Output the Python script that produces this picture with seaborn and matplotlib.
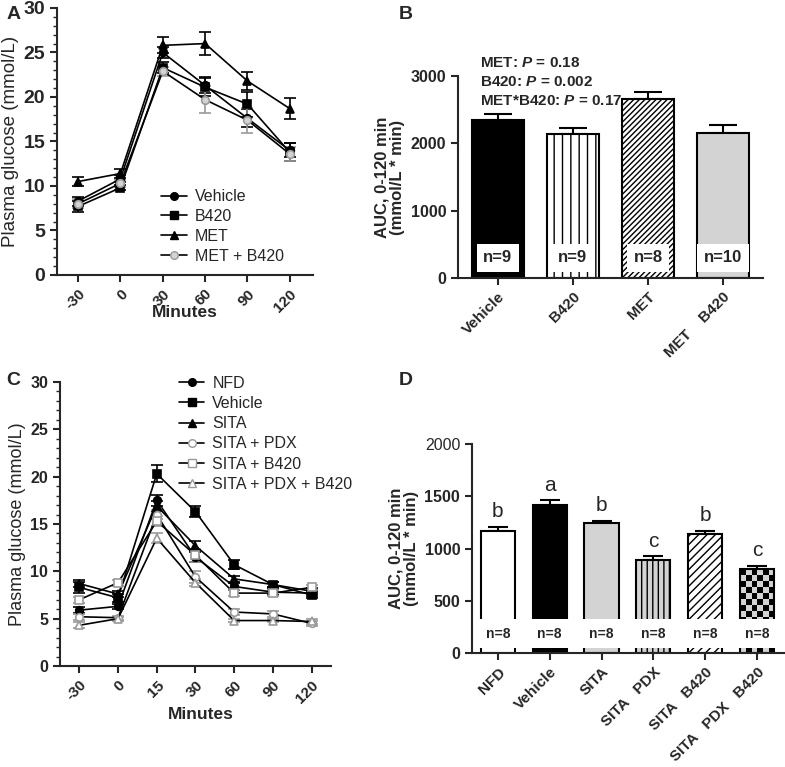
import numpy as np
import matplotlib
matplotlib.use("Agg")
import matplotlib.pyplot as plt
from matplotlib.ticker import MultipleLocator
from matplotlib.colors import ListedColormap
from matplotlib.lines import Line2D
import seaborn as sns

# ---- data ----
minutes_a = ["-30", "0", "30", "60", "90", "120"]
vehicle_a = [8.3, 10.8, 25.0, 21.3, 17.6, 14.0]
vehicle_a_sem = [0.5, 0.4, 0.6, 0.9, 1.0, 0.8]
b420_a = [7.7, 9.8, 23.3, 21.1, 19.2, 13.8]
b420_a_sem = [0.6, 0.3, 0.6, 1.0, 1.4, 1.0]
met_a = [10.5, 11.4, 25.8, 26.0, 21.8, 18.7]
met_a_sem = [0.5, 0.5, 0.9, 1.3, 1.0, 1.2]
metb420_a = [8.0, 10.3, 22.9, 19.7, 17.4, 13.6]
metb420_a_sem = [0.5, 0.4, 0.5, 1.5, 1.4, 0.8]

groups_b = ["Vehicle", "B420", "MET", "MET    B420"]
auc_b = [2340, 2135, 2665, 2160]
auc_b_sem = [100, 92, 92, 108]
n_b = ["n=9", "n=9", "n=8", "n=10"]
pvals_b = ["MET: $P$ = 0.18", "B420: $P$ = 0.002", "MET*B420: $P$ = 0.17"]

minutes_c = ["-30", "0", "15", "30", "60", "90", "120"]
nfd_c = [5.9, 6.3, 17.5, 11.5, 8.4, 7.8, 7.7]
nfd_c_sem = [0.3, 0.3, 0.6, 0.5, 0.4, 0.3, 0.3]
vehicle_c = [8.3, 7.2, 20.3, 16.3, 10.7, 8.6, 7.5]
vehicle_c_sem = [0.6, 0.4, 0.9, 0.6, 0.5, 0.3, 0.3]
sita_c = [8.7, 7.6, 16.9, 12.7, 9.2, 8.6, 7.9]
sita_c_sem = [0.4, 0.3, 0.5, 0.5, 0.3, 0.3, 0.3]
sita_pdx_c = [5.2, 5.1, 16.0, 9.4, 5.7, 5.5, 4.5]
sita_pdx_c_sem = [0.3, 0.2, 0.5, 0.6, 0.3, 0.3, 0.3]
sita_b420_c = [7.0, 8.8, 15.3, 11.7, 7.7, 7.7, 8.3]
sita_b420_c_sem = [0.3, 0.3, 0.5, 0.7, 0.3, 0.3, 0.3]
sita_pdx_b420_c = [4.3, 5.0, 13.5, 8.8, 4.8, 4.8, 4.7]
sita_pdx_b420_c_sem = [0.3, 0.2, 0.5, 0.4, 0.2, 0.2, 0.3]

groups_d = ["NFD", "Vehicle", "SITA", "SITA   PDX", "SITA   B420", "SITA   PDX   B420"]
auc_d = [1165, 1415, 1245, 890, 1140, 800]
auc_d_sem = [40, 45, 18, 35, 30, 32]
letters_d = ["b", "a", "b", "c", "b", "c"]
n_d = ["n=8"] * 6

# ---- style ----
sns.set_style("ticks")
plt.rcParams["font.family"] = ["Liberation Sans", "DejaVu Sans"]
plt.rcParams["mathtext.fontset"] = "custom"
plt.rcParams["mathtext.it"] = "Liberation Sans:italic:bold"
plt.rcParams["mathtext.rm"] = "Liberation Sans:bold"
plt.rcParams["hatch.linewidth"] = 1.0
plt.rcParams["axes.linewidth"] = 1.5

GREY = "#9a9a9a"
LIGHT = "#d3d3d3"

fig = plt.figure(figsize=(7.85, 7.67), dpi=100)
ax_a = fig.add_axes([0.0726, 0.6415, 0.3261, 0.3481])
ax_b = fig.add_axes([0.5834, 0.6375, 0.3885, 0.2634])
ax_c = fig.add_axes([0.0764, 0.1317, 0.3452, 0.3703])
ax_d = fig.add_axes([0.6013, 0.1486, 0.3987, 0.2725])


def style_axes(ax, ysize, xsize):
    sns.despine(ax=ax)
    ax.spines["left"].set_linewidth(1.5)
    ax.spines["bottom"].set_linewidth(1.5)
    ax.tick_params(axis="both", width=1.5, length=5)
    ax.tick_params(axis="y", labelsize=ysize)
    ax.tick_params(axis="x", labelsize=xsize)
    for lab in ax.get_yticklabels() + ax.get_xticklabels():
        lab.set_fontweight("bold")


def line_panel(ax, cats, series, ysize, lsize):
    x = np.arange(len(cats))
    for vals, sem, mk, fc, ec, lab in series:
        ax.errorbar(x, vals, yerr=sem, fmt="none", ecolor=ec, elinewidth=1.2,
                    capsize=4.5, capthick=1.2, zorder=2)
        sns.lineplot(x=x, y=vals, ax=ax, color="black", linewidth=1.2,
                     marker=mk, markersize=5.5, markerfacecolor=fc,
                     markeredgecolor=ec, markeredgewidth=1.2, zorder=3)
    ax.set_ylim(0, 30)
    ax.yaxis.set_major_locator(MultipleLocator(5))
    ax.yaxis.set_minor_locator(MultipleLocator(1))
    ax.tick_params(axis="y", which="minor", length=3, width=1.0)
    ax.set_xticks(x)
    ax.set_xticklabels(cats, rotation=45, ha="right", rotation_mode="anchor")
    ax.set_ylabel("Plasma glucose (mmol/L)", fontsize=lsize, labelpad=3)
    ax.set_xlabel("Minutes", fontsize=12.5, fontweight="bold")
    style_axes(ax, ysize, 11)
    handles = [Line2D([], [], color="black", linewidth=1.2, marker=mk, markersize=5.5,
                      markerfacecolor=fc, markeredgecolor=ec) for _, _, mk, fc, ec, _ in series]
    labels = [s[5] for s in series]
    return handles, labels


# ---- panel A ----
series_a = [
    (vehicle_a, vehicle_a_sem, "o", "black", "black", "Vehicle"),
    (b420_a, b420_a_sem, "s", "black", "black", "B420"),
    (met_a, met_a_sem, "^", "black", "black", "MET"),
    (metb420_a, metb420_a_sem, "o", LIGHT, GREY, "MET + B420"),
]
h, l = line_panel(ax_a, minutes_a, series_a, 14, 13.5)
ax_a.set_xlim(-0.5, 5.55)
ax_a.xaxis.set_label_coords(0.5, -0.112)
ax_a.xaxis.label.set_va("top")
ax_a.legend(h, l, loc="upper left", bbox_to_anchor=(0.383, 0.345), frameon=False,
            fontsize=11.5, handlelength=1.6, handletextpad=0.5, labelspacing=0.3,
            borderaxespad=0)

# ---- panel C ----
series_c = [
    (nfd_c, nfd_c_sem, "o", "black", "black", "NFD"),
    (vehicle_c, vehicle_c_sem, "s", "black", "black", "Vehicle"),
    (sita_c, sita_c_sem, "^", "black", "black", "SITA"),
    (sita_pdx_c, sita_pdx_c_sem, "o", "white", GREY, "SITA + PDX"),
    (sita_b420_c, sita_b420_c_sem, "s", "white", GREY, "SITA + B420"),
    (sita_pdx_b420_c, sita_pdx_b420_c_sem, "^", "white", GREY, "SITA + PDX + B420"),
]
h, l = line_panel(ax_c, minutes_c, series_c, 11.5, 13)
ax_c.set_xlim(-0.5, 6.5)
ax_c.xaxis.set_label_coords(0.52, -0.144)
ax_c.xaxis.label.set_va("top")
leg = ax_c.legend(h, l, loc="upper left", bbox_to_anchor=(0.415, 1.045), frameon=False,
                  fontsize=11.5, handlelength=1.6, handletextpad=0.5, labelspacing=0.33,
                  borderaxespad=0)


# ---- bar panels ----
def bar_panel(ax, groups, vals, sem, width, capsize, tsize):
    sns.barplot(x=groups, y=vals, ax=ax, color="white", edgecolor="black",
                linewidth=1.5, width=width, zorder=1)
    x = np.arange(len(groups))
    ax.errorbar(x, vals, yerr=[np.zeros(len(vals)), sem], fmt="none", ecolor="black",
                elinewidth=1.5, capsize=capsize, capthick=1.5, zorder=0.5)
    ax.set_xlim(-0.53, len(groups) - 1 + 0.53)
    ax.set_ylabel("AUC, 0-120 min\n(mmol/L * min)", fontsize=12, fontweight="bold",
                  linespacing=1.0)
    ax.set_xticks(x)
    ax.set_xticklabels(groups, rotation=45, ha="right", rotation_mode="anchor")
    style_axes(ax, tsize, 11)


# panel B
bar_panel(ax_b, groups_b, auc_b, auc_b_sem, 0.69, 10, 11.5)
ax_b.set_ylim(0, 3000)
ax_b.yaxis.set_major_locator(MultipleLocator(1000))
pb = ax_b.patches
pb[0].set_facecolor("black")
pb[1].set_hatch("||")
pb[2].set_hatch("//////")
pb[3].set_facecolor(LIGHT)
for i, t in enumerate(n_b):
    ax_b.text(i, 300, t, ha="center", va="center", fontsize=12, fontweight="bold",
              zorder=5, bbox=dict(boxstyle="square,pad=0.4", fc="white", ec="none"))
for k, t in enumerate(pvals_b):
    ax_b.text(0.072, 1.064 - k * 0.094, t, transform=ax_b.transAxes, fontsize=11,
              fontweight="bold", ha="left", va="center", zorder=6)

# panel D
bar_panel(ax_d, groups_d, auc_d, auc_d_sem, 0.66, 7, 11.5)
ax_d.set_ylim(0, 2000)
ax_d.yaxis.set_major_locator(MultipleLocator(500))
pd_ = ax_d.patches
pd_[1].set_facecolor("black")
pd_[2].set_facecolor(LIGHT)
pd_[3].set_facecolor(LIGHT)
pd_[3].set_hatch("|||")
pd_[4].set_hatch("////")
for i, t in enumerate(n_d):
    ax_d.text(i, 185, t, ha="center", va="center", fontsize=10, fontweight="bold",
              zorder=5, bbox=dict(boxstyle="square,pad=0.55", fc="white", ec="none"))
for i, t in enumerate(letters_d):
    ax_d.text(i, auc_d[i] + auc_d_sem[i] + 55, t, ha="center", va="bottom", fontsize=15)

# checkerboard fill for the last bar
chk = pd_[5]
chk.set_facecolor("none")
chk.set_zorder(1.5)
x0, x1 = chk.get_x(), chk.get_x() + chk.get_width()
top = chk.get_height()
fig.canvas.draw()
px_per_unit = ax_d.transData.transform((0, 1000))[1] - ax_d.transData.transform((0, 0))[1]
cell = 6.0
nrows = max(1, int(round(top * px_per_unit / 1000 / cell)))
ncols = 6
board = np.indices((nrows, ncols)).sum(axis=0) % 2
img = ax_d.imshow(board, extent=[x0, x1, 0, top], cmap=ListedColormap([LIGHT, "black"]),
                  aspect="auto", interpolation="nearest", origin="lower", zorder=1.2)
img.set_clip_path(chk)
ax_d.set_xlim(-0.5, 5.54)
ax_d.set_ylim(0, 2000)

# panel letters
for txt, (fx, fy) in zip("ABCD", [(0.008, 0.992), (0.508, 0.992), (0.008, 0.515), (0.508, 0.515)]):
    fig.text(fx, fy, txt, fontsize=14, fontweight="bold", ha="left", va="top")

fig.savefig("out.png", dpi=100)
